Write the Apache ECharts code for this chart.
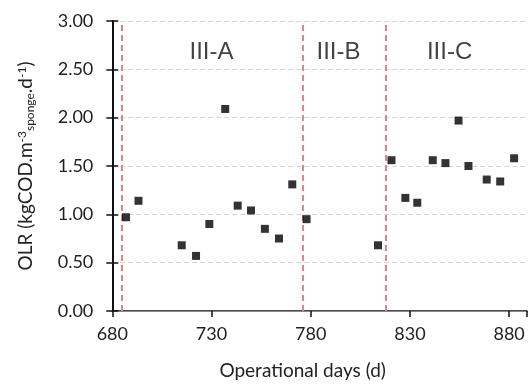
<!DOCTYPE html>
<html>
<head>
<meta charset="utf-8">
<script src="https://cdn.jsdelivr.net/npm/echarts@6/dist/echarts.min.js"></script>
<style>
  html, body { margin: 0; padding: 0; background: #fff; }
  #chart { width: 530px; height: 385px; }
</style>
</head>
<body>
<div id="chart"></div>
<script>
// Operational day of each OLR sample
const days = [686.9, 693.2, 715.0, 722.2, 728.9, 736.9, 743.2, 749.9, 756.9, 764.0, 770.7, 777.9,
              813.9, 820.7, 827.7, 833.7, 841.5, 847.9, 854.5, 859.5, 868.7, 875.5, 882.5];
// Organic loading rate (kgCOD.m-3 sponge.d-1)
const olr = [0.97, 1.14, 0.68, 0.57, 0.90, 2.09, 1.09, 1.04, 0.85, 0.75, 1.31, 0.95,
             0.68, 1.56, 1.17, 1.12, 1.56, 1.53, 1.97, 1.50, 1.36, 1.34, 1.58];
// Phase boundaries (days) and phase names
const phaseBounds = [685, 776, 818];
const phaseNames = ['III-A', 'III-B', 'III-C'];
const phaseLabelDays = [730, 794, 850];
const phaseLabelLevel = 2.68;
// Axis ticks
const xTicks = [680, 730, 780, 830, 880];
const yTicks = [0, 0.5, 1.0, 1.5, 2.0, 2.5, 3.0];

const chart = echarts.init(document.getElementById('chart'), null, { renderer: 'canvas' });
const tickFont = 'Lato';

const option = {
  animation: false,
  backgroundColor: '#fff',
  grid: { left: 112.3, right: 0, top: 21, bottom: 72.7, containLabel: false },
  xAxis: [{
    type: 'value',
    position: 'bottom',
    min: xTicks[0],
    max: 889,
    interval: 50,
    name: 'Operational days (d)',
    nameLocation: 'middle',
    nameGap: 50,
    nameTextStyle: { fontFamily: tickFont, fontSize: 19, color: '#222', padding: [0, 34, 0, 0] },
    axisLine: { lineStyle: { color: '#111', width: 1.5 } },
    axisTick: { show: true, inside: false, length: 6, lineStyle: { color: '#111', width: 1.5 } },
    axisLabel: {
      fontFamily: tickFont, fontSize: 18, color: '#222', margin: 14,
      formatter: v => (xTicks.indexOf(v) >= 0 ? String(v) : '')
    },
    splitLine: { show: false }
  }, {
    type: 'value',
    position: 'top',
    min: xTicks[0],
    max: 889,
    axisLine: { show: true, lineStyle: { color: '#8a8a8a', width: 1.2 } },
    axisTick: { show: false },
    axisLabel: { show: false },
    splitLine: { show: false }
  }],
  yAxis: [{
    type: 'value',
    position: 'left',
    min: yTicks[0],
    max: yTicks[yTicks.length - 1],
    interval: 0.5,
    name: 'OLR (kgCOD.m{sup|-3}{sub|sponge}{base|.d}{sup|-1}{base|)}',
    nameLocation: 'middle',
    nameRotate: 90,
    nameGap: 76,
    nameTextStyle: {
      fontFamily: tickFont, fontSize: 19, color: '#222',
      rich: {
        base: { fontFamily: tickFont, fontSize: 19, color: '#222' },
        sup: { fontFamily: tickFont, fontSize: 12, color: '#222', verticalAlign: 'top', padding: [0, 0, 8, 0] },
        sub: { fontFamily: tickFont, fontSize: 12, color: '#222', verticalAlign: 'bottom', padding: [8, 0, 0, 0] }
      }
    },
    axisLine: { show: true, lineStyle: { color: '#111', width: 2 } },
    axisTick: { show: true, inside: false, length: 6, lineStyle: { color: '#111', width: 1.5 } },
    axisLabel: { fontFamily: tickFont, fontSize: 18, color: '#222', margin: 19, formatter: v => v.toFixed(2) },
    splitLine: { show: true, lineStyle: { color: '#d4d4d4', type: [5, 3], width: 1 } }
  }, {
    type: 'value',
    position: 'left',
    min: yTicks[0],
    max: yTicks[yTicks.length - 1],
    interval: 0.5,
    axisLine: { show: false },
    axisTick: { show: true, inside: true, length: 6, lineStyle: { color: '#111', width: 1.5 } },
    axisLabel: { show: false },
    splitLine: { show: false }
  }],
  series: [{
    type: 'scatter',
    xAxisIndex: 0,
    yAxisIndex: 0,
    symbol: 'rect',
    symbolSize: 8,
    itemStyle: { color: '#000' },
    data: days.map((d, i) => [d, olr[i]]),
    z: 5,
    markLine: {
      silent: true,
      symbol: ['none', 'none'],
      label: { show: false },
      lineStyle: { color: '#e38585', type: [6, 4], width: 2 },
      data: phaseBounds.map(b => ({ xAxis: b }))
    }
  }, {
    type: 'scatter',
    xAxisIndex: 0,
    yAxisIndex: 0,
    symbolSize: 0,
    silent: true,
    data: phaseNames.map((n, i) => ({ name: n, value: [phaseLabelDays[i], phaseLabelLevel] })),
    label: {
      show: true,
      position: 'inside',
      formatter: p => p.name,
      fontFamily: 'Liberation Sans',
      fontSize: 24,
      color: '#111'
    }
  }]
};
chart.setOption(option);
</script>
</body>
</html>
